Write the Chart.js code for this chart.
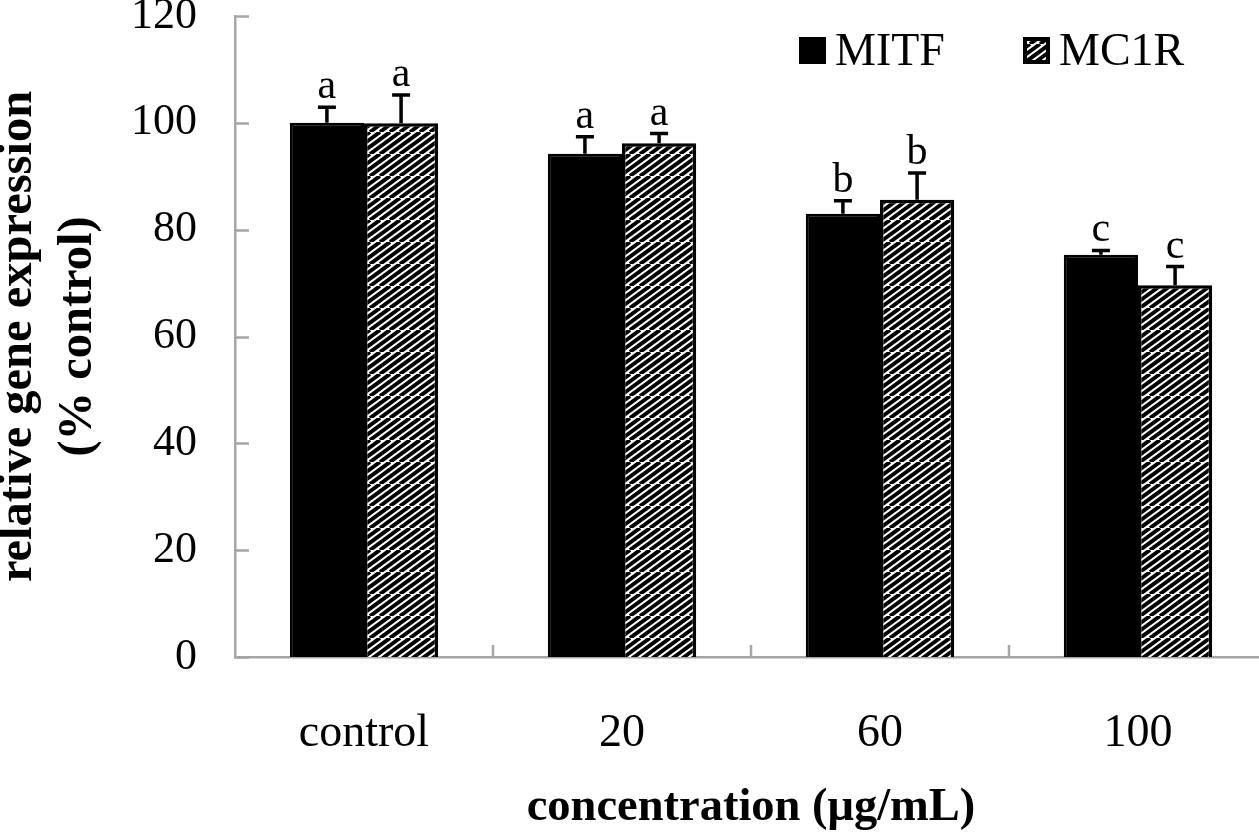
<!DOCTYPE html>
<html>
<head>
<meta charset="utf-8">
<script src="https://cdn.jsdelivr.net/npm/chart.js@4.4.1/dist/chart.umd.min.js"></script>
<style>
  html, body { margin: 0; padding: 0; background: #ffffff; overflow: hidden; }
  #wrap { width: 1270px; height: 840px; }
</style>
</head>
<body>
<div id="wrap"><canvas id="c" width="1270" height="840" style="width:1270px;height:840px"></canvas></div>
<script>
// ---- data ----
const categories = ['control', '20', '60', '100'];
const seriesNames = ['MITF', 'MC1R'];
const mitfValues = [100, 94.2, 83.0, 75.3];
const mc1rValues = [99.9, 96.2, 85.6, 69.6];
const mitfErrors = [2.9, 3.2, 2.4, 0.8];
const mc1rErrors = [5.3, 1.8, 5.0, 3.5];
const mitfLetters = ['a', 'a', 'b', 'c'];
const mc1rLetters = ['a', 'a', 'b', 'c'];
const yTicks = [0, 20, 40, 60, 80, 100, 120];

// ---- styles ----
const SERIF = '"Liberation Serif", "Times New Roman", serif';
const AXIS_COLOR = '#a6a6a6';

function makeStripePattern() {
  const w = 30, h = 22, step = 10;
  const t = document.createElement('canvas');
  t.width = w; t.height = h;
  const g = t.getContext('2d');
  g.fillStyle = '#ffffff';
  g.fillRect(0, 0, w, h);
  g.strokeStyle = '#000000';
  g.lineWidth = 3.9;
  for (let k = -4; k <= 4; k++) {
    g.beginPath();
    g.moveTo(k * step, h);
    g.lineTo(k * step + w, 0);
    g.stroke();
  }
  const ctx = document.getElementById('c').getContext('2d');
  return ctx.createPattern(t, 'repeat');
}
const stripe = makeStripePattern();

const errorsBySeries = [mitfErrors, mc1rErrors];
const lettersBySeries = [mitfLetters, mc1rLetters];

const overlayPlugin = {
  id: 'overlay',
  afterDatasetsDraw(chart) {
    const ctx = chart.ctx;
    const y = chart.scales.y;
    const x = chart.scales.x;
    const area = chart.chartArea;
    ctx.save();
    // inner ticks on y axis
    ctx.strokeStyle = AXIS_COLOR;
    ctx.lineWidth = 2.5;
    yTicks.forEach(v => {
      const py = Math.round(y.getPixelForValue(v)) + 0.5;
      ctx.beginPath();
      ctx.moveTo(area.left, py);
      ctx.lineTo(area.left + 14, py);
      ctx.stroke();
    });
    // inner ticks on x axis at category boundaries
    const n = categories.length;
    for (let i = 1; i < n; i++) {
      const px = (x.getPixelForValue(i - 1) + x.getPixelForValue(i)) / 2;
      ctx.beginPath();
      ctx.moveTo(px, area.bottom);
      ctx.lineTo(px, area.bottom - 12);
      ctx.stroke();
    }
    // error bars and letters
    chart.data.datasets.forEach((ds, di) => {
      const meta = chart.getDatasetMeta(di);
      meta.data.forEach((bar, i) => {
        const top = y.getPixelForValue(ds.data[i] + errorsBySeries[di][i]);
        const base = bar.y;
        ctx.strokeStyle = '#000000';
        ctx.lineWidth = 3.5;
        ctx.beginPath();
        ctx.moveTo(bar.x, base);
        ctx.lineTo(bar.x, top);
        ctx.moveTo(bar.x - 9, top);
        ctx.lineTo(bar.x + 9, top);
        ctx.stroke();
        ctx.fillStyle = '#000000';
        ctx.font = '42px ' + SERIF;
        ctx.textAlign = 'center';
        ctx.textBaseline = 'alphabetic';
        ctx.fillText(lettersBySeries[di][i], bar.x, top - 9);
      });
    });
    // legend
    const fills = ['#000000', stripe];
    const legendX = [area.left + 564, area.left + 788];
    chart.data.datasets.forEach((ds, di) => {
      const lx = legendX[di];
      const ly = 37;
      ctx.fillStyle = fills[di];
      ctx.fillRect(lx, ly, 27, 27);
      ctx.strokeStyle = '#000000';
      ctx.lineWidth = 4;
      ctx.strokeRect(lx + 2, ly + 2, 23, 23);
      ctx.fillStyle = '#000000';
      ctx.font = '46px ' + SERIF;
      ctx.textAlign = 'left';
      ctx.textBaseline = 'alphabetic';
      ctx.fillText(ds.label, lx + 36, ly + 28);
    });
    ctx.restore();
  }
};

new Chart(document.getElementById('c'), {
  type: 'bar',
  data: {
    labels: categories,
    datasets: [
      {
        label: seriesNames[0],
        data: mitfValues,
        backgroundColor: '#000000',
        borderColor: '#000000',
        borderWidth: 3,
        categoryPercentage: 0.575,
        barPercentage: 1.0
      },
      {
        label: seriesNames[1],
        data: mc1rValues,
        backgroundColor: stripe,
        borderColor: '#000000',
        borderWidth: 3.5,
        categoryPercentage: 0.575,
        barPercentage: 1.0
      }
    ]
  },
  options: {
    responsive: false,
    animation: false,
    devicePixelRatio: 1,
    layout: { padding: { top: 16, right: 3, left: 0, bottom: 0 } },
    plugins: {
      legend: { display: false },
      tooltip: { enabled: false }
    },
    scales: {
      x: {
        grid: { display: false },
        border: { display: true, color: AXIS_COLOR, width: 2.5 },
        ticks: {
          color: '#000000',
          font: { family: SERIF, size: 46 },
          padding: 41,
          maxRotation: 0
        },
        title: {
          display: true,
          text: 'concentration (μg/mL)',
          color: '#000000',
          font: { family: SERIF, size: 46.5, weight: 'bold', lineHeight: 1.2 },
          padding: { top: 0, bottom: 4 }
        },
        afterFit(scale) {
          scale.height = 183;
          scale.paddingLeft = 0;
          scale.paddingRight = 0;
        }
      },
      y: {
        min: 0,
        max: 120,
        afterBuildTicks(scale) {
          scale.ticks = yTicks.map(v => ({ value: v }));
        },
        grid: { display: false },
        border: { display: true, color: AXIS_COLOR, width: 2.5 },
        ticks: {
          color: '#000000',
          font: { family: SERIF, size: 44 },
          padding: 30
        },
        title: {
          display: true,
          text: ['relative gene expression', '(% control)'],
          color: '#000000',
          font: { family: SERIF, size: 48.5, weight: 'bold', lineHeight: 1.25 },
          padding: { top: -12, bottom: 0 }
        },
        afterFit(scale) {
          scale.width = 235;
          scale.paddingTop = 0;
          scale.paddingBottom = 0;
        }
      }
    }
  },
  plugins: [overlayPlugin]
});
</script>
</body>
</html>
